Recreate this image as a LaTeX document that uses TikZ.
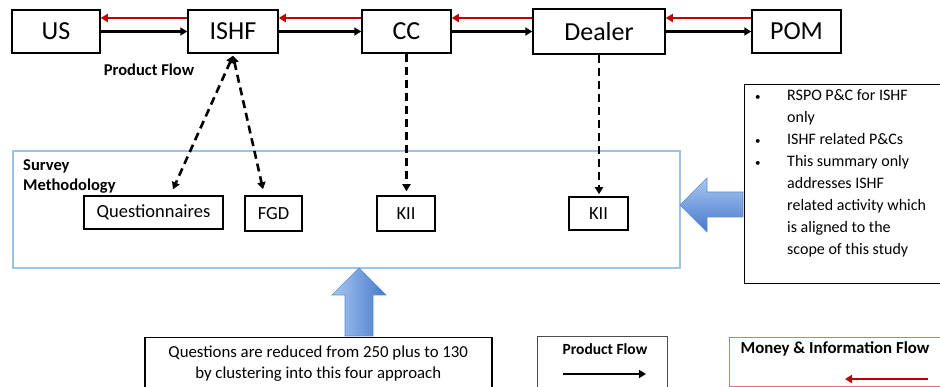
\documentclass[tikz,border=0pt]{standalone}
\usepackage{fontspec}
\setmainfont{Carlito}
\usepackage{xcolor}
\usetikzlibrary{arrows.meta,positioning,calc}

\definecolor{moneyred}{HTML}{C00000}
\definecolor{surveyblue}{HTML}{9DC3E6}
\definecolor{arrowlight}{HTML}{A9C8F2}
\definecolor{arrowdark}{HTML}{4678CA}
\definecolor{arrowedge}{HTML}{5B8BD6}
\newcommand{\scopebullet}{\makebox[30pt][l]{\hspace*{-2pt}\fontsize{11}{11}\selectfont\textbullet}}

\begin{document}
\begin{tikzpicture}[x=1pt,y=-1pt,
  every node/.style={inner sep=0pt},
  ftip/.tip={Triangle[length=7pt,width=8pt]},
  actor/.style={draw,line width=1.5pt,minimum height=43pt,font=\fontsize{26}{30}\selectfont},
  method/.style={draw,line width=1.5pt,font=\fontsize{18.5}{22}\selectfont},
  lbl/.style={font=\fontsize{16.5}{20}\selectfont\bfseries,align=left},
  prod/.style={line width=2.6pt,-{ftip}},
  money/.style={moneyred,line width=2.8pt,-{ftip}},
  probe/.style={line width=2.6pt,dash pattern=on 8pt off 5pt}]
  \useasboundingbox (0,0) rectangle (940,387);
  \clip (0,0) rectangle (940,387);

  % supply chain
  \node[actor,minimum width=88pt] (us) at (56,31.5) {US};
  \node[actor,minimum width=90pt] (ishf) at (233,31.5) {ISHF};
  \node[actor,minimum width=89pt] (cc) at (406.5,31.5) {CC};
  \node[actor,minimum width=132pt,minimum height=45pt] (dealer) at (599,31.5) {Dealer};
  \node[actor,minimum width=89pt] (pom) at (796.5,31.5) {POM};
  \draw[prod] (us.east) -- (ishf.west);
  \draw[prod] (ishf.east) -- (cc.west);
  \draw[prod] (cc.east) -- (dealer.west);
  \draw[prod] (dealer.east) -- (pom.west);
  \draw[money] ([yshift=13.5pt]ishf.west) -- ([yshift=13.5pt]us.east);
  \draw[money] ([yshift=13.5pt]cc.west) -- ([yshift=13.5pt]ishf.east);
  \draw[money] ([yshift=13.5pt]dealer.west) -- ([yshift=13.5pt]cc.east);
  \draw[money] ([yshift=13.5pt]pom.west) -- ([yshift=13.5pt]dealer.east);
  \node[lbl] (flowlbl) at (149,70) {Product Flow};

  % survey methodology
  \node[draw=surveyblue,line width=1.3pt,minimum width=667pt,minimum height=117pt] (survey) at (346.5,209.5) {};
  \node[lbl,anchor=north west] (surveylbl) at (23,159) {Survey\\Methodology};
  \node[method,minimum width=139pt,minimum height=33pt] (quest) at (153.5,212.5) {Questionnaires};
  \node[method,minimum width=57pt,minimum height=35pt] (fgd) at (273.5,213.5) {FGD};
  \node[method,minimum width=58pt,minimum height=35pt] (kiicc) at (406,213.5) {KII};
  \node[method,minimum width=59pt,minimum height=33pt] (kiidealer) at (598.5,213.5) {KII};
  \draw[probe,{ftip}-{ftip}] ([yshift=-2pt]ishf.south) -- ([xshift=19.5pt,yshift=6pt]quest.north);
  \draw[probe,{ftip}-{ftip}] ([yshift=-2pt]ishf.south) -- ([xshift=-10.5pt,yshift=6pt]fgd.north);
  \draw[probe,-{ftip},shorten >=4pt] (cc.south) -- (cc.south |- kiicc.north);
  \draw[probe,-{ftip},shorten >=2pt] (dealer.south) -- (dealer.south |- kiidealer.north);

  % scope note
  \node[draw,line width=1.4pt,anchor=north west,minimum width=220pt,minimum height=199pt] (scope) at (744,84) {};
  \node[anchor=north west,align=left,font=\fontsize{16}{22}\selectfont] (scopetxt) at (757,89)
    {\scopebullet RSPO P\&C for ISHF\\
     \hspace*{30pt}only\\
     \scopebullet ISHF related P\&Cs\\
     \scopebullet This summary only\\
     \hspace*{30pt}addresses ISHF\\
     \hspace*{30pt}related activity which\\
     \hspace*{30pt}is aligned to the\\
     \hspace*{30pt}scope of this study};
  \shadedraw[top color=arrowlight,bottom color=arrowdark,draw=arrowedge,line width=0.6pt]
    (743,192) -- (707,192) -- (707,178) -- (680,205) -- (707,232) -- (707,217) -- (743,217) -- cycle;

  % question reduction
  \node[draw,line width=1.5pt,anchor=north west,minimum width=347pt,minimum height=52pt,align=center,
    font=\fontsize{16.8}{21}\selectfont] (clusterbox) at (144,337)
    {Questions are reduced from 250 plus to 130\\by clustering into this four approach};
  \shadedraw[left color=arrowlight,right color=arrowdark,draw=arrowedge,line width=0.6pt]
    (345,336) -- (345,295) -- (332,295) -- (359,268) -- (386,295) -- (373,295) -- (373,336) -- cycle;

  % legend
  \node[draw=black!70,line width=1.2pt,anchor=north west,minimum width=130pt,minimum height=56pt] (legprod) at (537,336) {};
  \node[lbl,font=\fontsize{15.5}{19}\selectfont\bfseries] (legprodtxt) at (605,349) {Product Flow};
  \coordinate (lpstart) at (563,374);
  \coordinate (lpend) at (646,374);
  \draw[prod,line width=2.2pt] (lpstart) -- (lpend);
  \node[draw=moneyred!55,line width=1.2pt,anchor=north west,minimum width=240pt,minimum height=49pt] (legmoney) at (729,337) {};
  \node[lbl,font=\fontsize{16.8}{20}\selectfont\bfseries] (legmoneytxt) at (835,349) {Money \& Information Flow};
  \coordinate (lmstart) at (928,379);
  \coordinate (lmend) at (845,379);
  \draw[money,line width=2.2pt] (lmstart) -- (lmend);
\end{tikzpicture}
\end{document}
